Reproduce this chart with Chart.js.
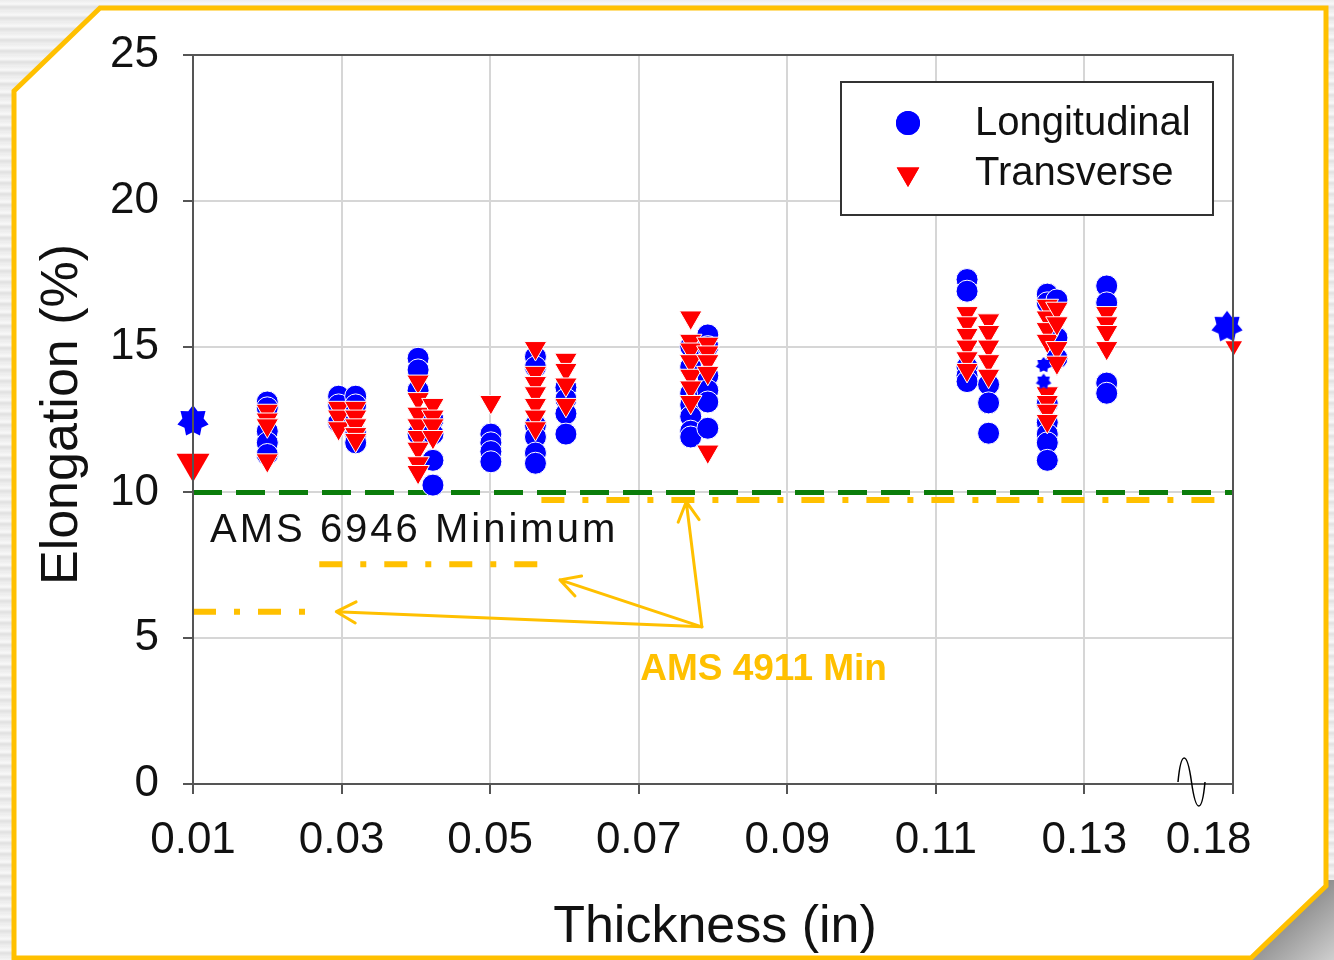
<!DOCTYPE html>
<html>
<head>
<meta charset="utf-8">
<script src="https://cdn.jsdelivr.net/npm/chart.js@4.4.1/dist/chart.umd.min.js"></script>
<style>
    html, body { margin: 0; padding: 0; }
    body {
        width: 1334px; height: 960px; overflow: hidden; position: relative;
        background: repeating-linear-gradient(180deg, #ececec 0px, #f8f8f8 4px, #e0e0e0 7px, #f0f0f0 11px);
    }
    #frame, #wrap { position: absolute; left: 0; top: 0; }
</style>
</head>
<body>
<svg id="frame" width="1334" height="960">
    <defs>
        <linearGradient id="bevel" x1="0" y1="0" x2="1" y2="1">
            <stop offset="0" stop-color="#555"/>
            <stop offset="0.45" stop-color="#8c8c8c"/>
            <stop offset="1" stop-color="#cfcfcf"/>
        </linearGradient>
    </defs>
    <polygon points="1326,880 1334,880 1334,960 1244,960" fill="url(#bevel)"/>
    <polygon points="100,8 1326,8 1326,886 1251,958 14,958 14,91" fill="#fff" stroke="#FFC000" stroke-width="5"/>
</svg>
<div id="wrap"><canvas id="chart" width="1334" height="960"></canvas></div>

<script>
// --- DATA ---
const xTicks = [0.01, 0.03, 0.05, 0.07, 0.09, 0.11, 0.13, 0.15];
const xTickLabels = ['0.01', '0.03', '0.05', '0.07', '0.09', '0.11', '0.13', '0.18'];
const yTicks = [0, 5, 10, 15, 20, 25];

// thickness of each test group (in)
const groupX = [0.02, 0.0296, 0.0319, 0.0403, 0.0423, 0.0501, 0.0561, 0.0602,
                0.077, 0.0793, 0.1142, 0.1171, 0.125, 0.1263, 0.133];

const longitudinal = [
    [13.1, 12.9, 12.1, 11.7, 11.3],
    [13.3, 13.0, 12.4],
    [13.3, 13.0, 12.0, 11.7],
    [14.6, 14.2, 13.5, 12.0],
    [12.5, 12.0, 11.1, 10.25],
    [12.0, 11.7, 11.4, 11.05],
    [14.65, 14.3, 12.3, 11.9, 11.35, 11.0],
    [13.6, 13.2, 12.7, 12.0],
    [15.0, 14.3, 13.4, 13.0, 12.6, 12.1, 11.9],
    [15.4, 15.0, 14.0, 13.5, 13.1, 12.2],
    [17.3, 16.9, 14.3, 14.0, 13.8],
    [13.7, 13.07, 12.03],
    [16.8, 16.5, 13.05, 12.4, 12.0, 11.7, 11.1],
    [16.6, 15.3, 14.6],
    [17.08, 16.5, 13.75, 13.4]
];

const transverse = [
    [12.8, 12.5, 12.3, 11.1],
    [12.9, 12.6, 12.2],
    [12.9, 12.6, 12.3, 12.0, 11.8],
    [13.8, 13.2, 12.7, 12.3, 11.9, 11.5, 11.0, 10.7],
    [13.0, 12.6, 12.3, 11.9],
    [13.1],
    [14.95, 14.1, 13.75, 13.4, 13.0, 12.6, 12.2],
    [14.55, 14.2, 13.7, 13.0],
    [16.0, 15.2, 14.9, 14.5, 14.0, 13.6, 13.1],
    [15.1, 14.8, 14.5, 14.1, 11.4],
    [16.15, 15.8, 15.4, 15.0, 14.6, 14.2],
    [15.9, 15.5, 15.0, 14.5, 14.0],
    [16.4, 16.0, 15.6, 15.2, 13.4, 13.1, 12.8, 12.45],
    [16.3, 15.8, 14.95, 14.45],
    [16.15, 15.8, 15.5, 14.95]
];

// single marked values (stars / large triangle)
const longStarX = [0.01, 0.1492];
const longStarY = [12.45, 15.68];
const longSmallStarX = [0.1245, 0.1245];
const longSmallStarY = [14.37, 13.8];
const transBigX = [0.01];
const transBigY = [11.0];
const transEndX = [0.1501];
const transEndY = [15.02];

// specification minimums
const ams6946X = [0.01, 0.15];
const ams6946Y = [10, 10];
const ams4911X = [[0.0569, 0.15], [0.027, 0.0568], [0.01, 0.0252]];
const ams4911Y = [9.74, 7.54, 5.91];
const arrowFrom = [0.0785, 5.39];
const arrowToX = [0.0293, 0.0594, 0.0764];
const arrowToY = [5.91, 7.0, 9.68];

// --- HELPERS ---
const FONT = "'Liberation Sans', Arial, sans-serif";
Chart.defaults.font.family = FONT;
Chart.defaults.color = '#111';

function flatten(xs, groups) {
    const pts = [];
    groups.forEach((g, i) => g.forEach(v => pts.push({ x: xs[i], y: v })));
    return pts;
}
function pairs(xs, ys) {
    return xs.map((x, i) => ({ x: x, y: ys[i] }));
}
function makeStar(r, color) {
    const c = document.createElement('canvas');
    const s = Math.ceil(r * 2) + 2;
    c.width = s; c.height = s;
    const g = c.getContext('2d');
    g.fillStyle = color;
    g.beginPath();
    for (let i = 0; i < 14; i++) {
        const a = -Math.PI / 2 + i * Math.PI / 7;
        const rr = i % 2 ? r * 0.68 : r;
        g.lineTo(s / 2 + rr * Math.cos(a), s / 2 + rr * Math.sin(a));
    }
    g.closePath();
    g.fill();
    return c;
}

const lineBase = { showLine: true, pointRadius: 0, fill: false, clip: false };

const datasets = [
    {
        label: 'Longitudinal', data: flatten(groupX, longitudinal),
        pointStyle: 'circle', pointRadius: 11, backgroundColor: '#0000FF',
        borderColor: '#fff', borderWidth: 1, order: 3, clip: false
    },
    {
        label: 'Transverse', data: flatten(groupX, transverse),
        pointStyle: 'triangle', rotation: 180, pointRadius: 13, backgroundColor: '#FF0000',
        borderColor: '#fff', borderWidth: 1, order: 2, clip: false
    },
    {
        label: 'L star', data: pairs(longStarX, longStarY),
        pointStyle: makeStar(16, '#0000FF'), order: 1, clip: false
    },
    {
        label: 'L small star', data: pairs(longSmallStarX, longSmallStarY),
        pointStyle: makeStar(8, '#0000FF'), order: 0, clip: false
    },
    {
        label: 'T big', data: pairs(transBigX, transBigY),
        pointStyle: 'triangle', rotation: 180, pointRadius: 19, backgroundColor: '#FF0000',
        borderWidth: 0, order: 1, clip: false
    },
    {
        label: 'T end', data: pairs(transEndX, transEndY),
        pointStyle: 'triangle', rotation: 180, pointRadius: 9.5, backgroundColor: '#FF0000',
        borderWidth: 0, order: 1, clip: false
    },
    Object.assign({}, lineBase, {
        label: 'AMS 6946', data: pairs(ams6946X, ams6946Y),
        borderColor: '#0B7D0B', borderWidth: 5, borderDash: [29, 14], order: 10
    })
];
ams4911X.forEach((xs, i) => {
    datasets.push(Object.assign({}, lineBase, {
        label: 'AMS 4911', data: pairs(xs, [ams4911Y[i], ams4911Y[i]]),
        borderColor: '#FFC000', borderWidth: 6, borderDash: [23, 18, 6, 18], order: 11
    }));
});

// --- PLUGIN: frame, legend, notes ---
const decorations = {
    id: 'decorations',
    afterDatasetsDraw(chart) {
        const { ctx, chartArea: a } = chart;
        const xs = chart.scales.x, ys = chart.scales.y;
        ctx.save();
        // axis frame on top of the markers
        ctx.strokeStyle = '#555';
        ctx.lineWidth = 2;
        ctx.beginPath();
        ctx.moveTo(a.left, a.bottom); ctx.lineTo(a.left, a.top);
        ctx.lineTo(a.right, a.top); ctx.lineTo(a.right, a.bottom);
        ctx.stroke();

        // axis break squiggle
        const bx = a.right - 55, by = a.bottom - 2;
        ctx.strokeStyle = '#000';
        ctx.lineWidth = 1.5;
        ctx.beginPath();
        ctx.moveTo(bx, by);
        ctx.bezierCurveTo(bx + 3, by - 32, bx + 9, by - 32, bx + 13.5, by);
        ctx.bezierCurveTo(bx + 18, by + 32, bx + 24, by + 32, bx + 27, by);
        ctx.stroke();

        // arrows
        const ox = xs.getPixelForValue(arrowFrom[0]), oy = ys.getPixelForValue(arrowFrom[1]);
        ctx.strokeStyle = '#FFC000';
        ctx.lineWidth = 3;
        ctx.lineCap = 'round';
        arrowToX.forEach((tx, i) => {
            const px = xs.getPixelForValue(tx), py = ys.getPixelForValue(arrowToY[i]);
            const ang = Math.atan2(py - oy, px - ox);
            ctx.beginPath();
            ctx.moveTo(ox, oy); ctx.lineTo(px, py);
            [0.5, -0.5].forEach(d => {
                ctx.moveTo(px, py);
                ctx.lineTo(px - 22 * Math.cos(ang + d), py - 22 * Math.sin(ang + d));
            });
            ctx.stroke();
        });

        // text notes
        ctx.fillStyle = '#FFC000';
        ctx.font = 'bold 37px ' + FONT;
        ctx.textAlign = 'left';
        ctx.textBaseline = 'alphabetic';
        ctx.fillText('AMS 4911 Min', xs.getPixelForValue(0.0702), ys.getPixelForValue(3.57));

        ctx.fillStyle = '#111';
        ctx.font = '40px ' + FONT;
        ctx.letterSpacing = '3px';
        ctx.fillText('AMS 6946 Minimum', xs.getPixelForValue(0.0123), ys.getPixelForValue(8.3));
        ctx.letterSpacing = '0px';

        // axis titles
        ctx.font = '52px ' + FONT;
        ctx.textAlign = 'center';
        ctx.fillText('Thickness (in)', (a.left + a.right) / 2 + 2, 942);
        ctx.save();
        ctx.translate(77, (a.top + a.bottom) / 2 - 5);
        ctx.rotate(-Math.PI / 2);
        ctx.fillText('Elongation (%)', 0, 0);
        ctx.restore();

        // legend
        const lx = 841, ly = 82, lw = 372, lh = 133;
        ctx.fillStyle = '#fff';
        ctx.fillRect(lx, ly, lw, lh);
        ctx.strokeStyle = '#333';
        ctx.lineWidth = 2;
        ctx.strokeRect(lx, ly, lw, lh);
        const rows = [[0, 123, 135], [1, 174, 185]];
        ctx.font = '40px ' + FONT;
        ctx.textAlign = 'left';
        rows.forEach(([di, my, ty]) => {
            const ds = chart.data.datasets[di];
            ctx.fillStyle = ds.backgroundColor;
            ctx.beginPath();
            Chart.helpers.drawPoint(ctx, {
                pointStyle: ds.pointStyle, rotation: ds.rotation || 0,
                radius: di === 0 ? 12 : 13, borderWidth: 0
            }, 908, my);
            ctx.fill();
            ctx.fillStyle = '#111';
            ctx.fillText(ds.label, 975, ty);
        });
        ctx.restore();
    }
};

new Chart(document.getElementById('chart'), {
    type: 'scatter',
    data: { datasets: datasets },
    options: {
        responsive: false,
        animation: false,
        devicePixelRatio: 1,
        layout: { padding: { left: 0, top: 55, right: 101, bottom: 0 } },
        plugins: { legend: { display: false }, tooltip: { enabled: false } },
        scales: {
            x: {
                type: 'linear', min: 0.01, max: 0.15,
                afterFit(scale) { scale.height = 176; },
                afterBuildTicks(scale) { scale.ticks = xTicks.map(v => ({ value: v })); },
                ticks: {
                    autoSkip: false, maxRotation: 0, padding: 20,
                    font: { size: 44 }, color: '#111',
                    callback: (v, i) => i === xTicks.length - 1 ? xTickLabels[i] + '    ' : xTickLabels[i]
                },
                grid: { color: '#d6d6d6', lineWidth: 2, tickColor: '#555', tickLength: 10 },
                border: { color: '#555', width: 2 }
            },
            y: {
                type: 'linear', min: 0, max: 25,
                afterFit(scale) { scale.width = 193; },
                afterBuildTicks(scale) { scale.ticks = yTicks.map(v => ({ value: v })); },
                ticks: { padding: 24, font: { size: 44 }, color: '#111' },
                grid: { color: '#d6d6d6', lineWidth: 2, tickColor: '#555', tickLength: 10 },
                border: { color: '#555', width: 2 }
            }
        }
    },
    plugins: [decorations]
});
</script>
</body>
</html>
